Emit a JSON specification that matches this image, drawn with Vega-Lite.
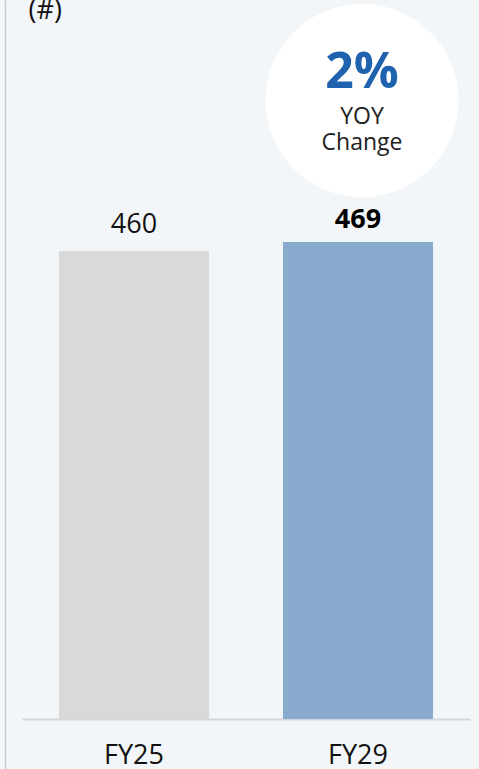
{
  "$schema": "https://vega.github.io/schema/vega-lite/v6.json",
  "width": 448,
  "height": 769,
  "autosize": {"type": "none"},
  "padding": {"left": 22, "right": 9, "top": 0, "bottom": 0},
  "background": "#f3f6f9",
  "config": {"view": {"stroke": null}, "font": "Open Sans"},
  "data": {"values": [
    {"year": "FY25", "value": 460, "label": "460"},
    {"year": "FY29", "value": 469, "label": "469"}
  ]},
  "encoding": {
    "x": {
      "field": "year", "type": "nominal",
      "scale": {"paddingInner": 0.33, "paddingOuter": 0.165},
      "axis": {
        "orient": "bottom", "offset": -50, "title": null,
        "domainColor": "#d3d7dc", "domainWidth": 2,
        "ticks": false, "tickSize": 0, "labelAngle": 0,
        "labelFontSize": 27, "labelColor": "#111111",
        "labelBaseline": "alphabetic", "labelPadding": 44, "labelFont": "Open Sans"
      }
    }
  },
  "layer": [
    {
      "mark": {"type": "bar"},
      "encoding": {
        "y": {
          "field": "value", "type": "quantitative",
          "scale": {"domain": [-49.2, 706.8], "nice": false},
          "axis": {
            "orient": "left", "offset": 17, "domain": true,
            "domainColor": "#c8ccd1", "domainWidth": 1.5,
            "ticks": false, "labels": false, "grid": false,
            "title": "(#)", "titleAngle": 0, "titleAlign": "left",
            "titleBaseline": "alphabetic", "titleX": 23, "titleY": 18,
            "titleFontSize": 27, "titleFontWeight": "normal",
            "titleColor": "#111111", "titleFont": "Open Sans"
          }
        },
        "color": {
          "field": "year", "type": "nominal",
          "scale": {"domain": ["FY25", "FY29"], "range": ["#d9d9d9", "#89acce"]},
          "legend": null
        }
      }
    },
    {
      "transform": [{"filter": "datum.year == 'FY25'"}],
      "mark": {"type": "text", "dy": -18, "baseline": "alphabetic", "fontSize": 27, "color": "#111111"},
      "encoding": {
        "y": {"field": "value", "type": "quantitative"},
        "text": {"field": "label"}
      }
    },
    {
      "transform": [{"filter": "datum.year == 'FY29'"}],
      "mark": {"type": "text", "dy": -14, "baseline": "alphabetic", "fontSize": 27, "fontWeight": "bold", "color": "#000000"},
      "encoding": {
        "y": {"field": "value", "type": "quantitative"},
        "text": {"field": "label"}
      }
    },
    {
      "data": {"values": [{"note": "YOY Change", "pct": "2%"}]},
      "layer": [
        {
          "mark": {"type": "point", "shape": "circle", "filled": true, "fill": "#ffffff", "opacity": 1, "size": 37249, "strokeWidth": 0, "xOffset": 4},
          "encoding": {"x": {"datum": "FY29"}, "y": {"datum": 608}}
        },
        {
          "mark": {"type": "text", "baseline": "alphabetic", "fontSize": 50, "fontWeight": "bold", "color": "#1f62ae", "xOffset": 4},
          "encoding": {"x": {"datum": "FY29"}, "y": {"datum": 620.3}, "text": {"field": "pct"}}
        },
        {
          "mark": {"type": "text", "baseline": "alphabetic", "fontSize": 23, "color": "#222222", "xOffset": 4, "text": "YOY"},
          "encoding": {"x": {"datum": "FY29"}, "y": {"datum": 584.9}}
        },
        {
          "mark": {"type": "text", "baseline": "alphabetic", "fontSize": 23, "color": "#222222", "xOffset": 4, "text": "Change"},
          "encoding": {"x": {"datum": "FY29"}, "y": {"datum": 559.4}}
        }
      ]
    }
  ]
}
